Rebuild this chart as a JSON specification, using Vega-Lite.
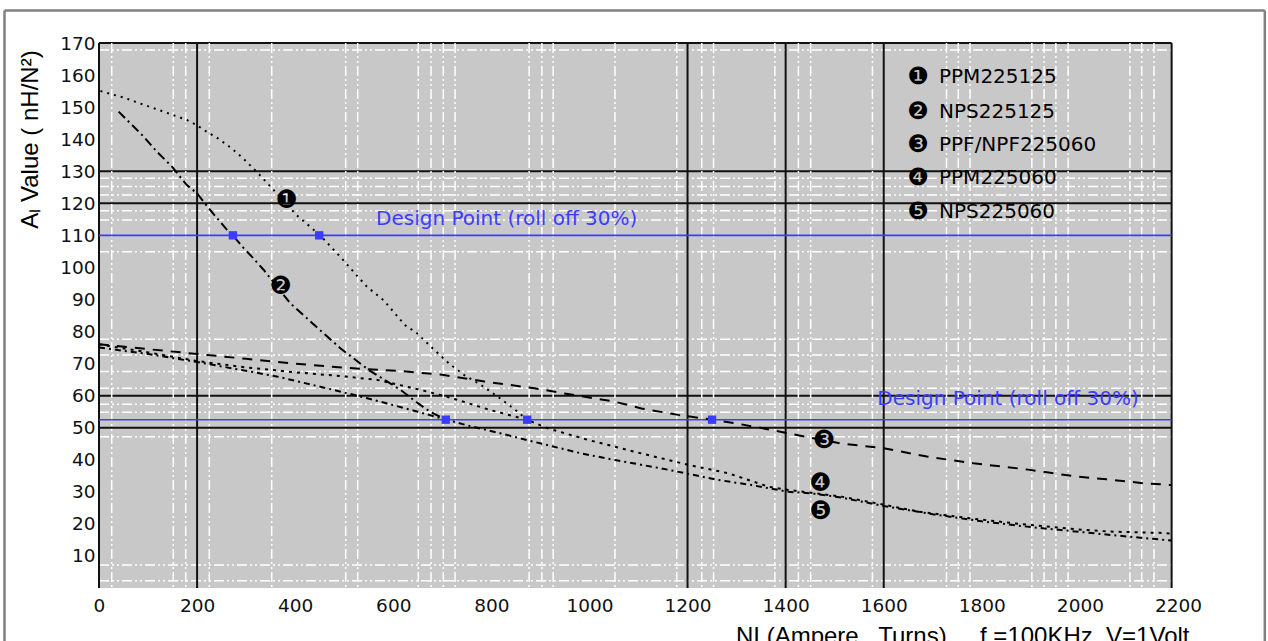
{
  "$schema": "https://vega.github.io/schema/vega-lite/v6.json",
  "autosize": {"type": "none"},
  "width": 1079,
  "height": 545,
  "padding": {"left": 99, "top": 43, "right": 90, "bottom": 53},
  "background": "#ffffff",
  "config": {"view": {"stroke": null}, "axis": {"grid": false, "ticks": false, "domain": false, "labelOverlap": false, "labelBound": false}},
  "datasets": {
    "hgrid": [{"v": 167.8}, {"v": 127.8}, {"v": 125.2}, {"v": 122.6}, {"v": 117.7}, {"v": 114.8}, {"v": 104.9}, {"v": 77.6}, {"v": 72.7}, {"v": 67.5}, {"v": 62.3}, {"v": 57.3}, {"v": 54.8}, {"v": 47.2}, {"v": 7.2}, {"v": 2.3}],
    "vgrid": [{"v": 25.9}, {"v": 151.5}, {"v": 176.8}, {"v": 224.9}, {"v": 352.1}, {"v": 503}, {"v": 527.5}, {"v": 651}, {"v": 677}, {"v": 702}, {"v": 726}, {"v": 877}, {"v": 903}, {"v": 926}, {"v": 1052}, {"v": 1178}, {"v": 1229}, {"v": 1253}, {"v": 1378}, {"v": 1426}, {"v": 1451}, {"v": 1577}, {"v": 1728}, {"v": 1752}, {"v": 1776}, {"v": 1902}, {"v": 1927}, {"v": 1951}, {"v": 1976}, {"v": 2102}, {"v": 2126}, {"v": 2151}],
    "blackh": [{"v": 170}, {"v": 130}, {"v": 120}, {"v": 60}, {"v": 50}],
    "blackv": [{"v": 0}, {"v": 200}, {"v": 1200}, {"v": 1400}, {"v": 1600}, {"v": 2187}],
    "design": [{"v": 110}, {"v": 52.5}],
    "designText": [{"x": 564.8, "y": 113.2, "t": "Design Point (roll off 30%)"}, {"x": 1587, "y": 57.1, "t": "Design Point (roll off 30%)"}],
    "squares": [{"x": 273, "y": 110}, {"x": 449, "y": 110}, {"x": 707, "y": 52.5}, {"x": 873, "y": 52.5}, {"x": 1250, "y": 52.5}],
    "curves": [
      {"s": "1", "x": 3, "y": 155}, {"s": "1", "x": 50, "y": 153}, {"s": "1", "x": 90, "y": 150.8}, {"s": "1", "x": 128, "y": 148.8}, {"s": "1", "x": 179, "y": 146}, {"s": "1", "x": 199, "y": 144.4}, {"s": "1", "x": 220, "y": 142.3}, {"s": "1", "x": 243, "y": 140.2}, {"s": "1", "x": 270, "y": 137.2}, {"s": "1", "x": 294, "y": 134}, {"s": "1", "x": 315, "y": 130.8}, {"s": "1", "x": 328, "y": 128.8}, {"s": "1", "x": 403, "y": 116.3}, {"s": "1", "x": 451, "y": 110}, {"s": "1", "x": 495, "y": 102.8}, {"s": "1", "x": 546, "y": 94}, {"s": "1", "x": 580, "y": 89.8}, {"s": "1", "x": 624, "y": 82}, {"s": "1", "x": 648, "y": 79.5}, {"s": "1", "x": 684, "y": 74.2}, {"s": "1", "x": 714, "y": 70}, {"s": "1", "x": 745, "y": 66.4}, {"s": "1", "x": 779, "y": 63.3}, {"s": "1", "x": 813, "y": 59.7}, {"s": "1", "x": 845, "y": 56}, {"s": "1", "x": 873, "y": 52.5},
      {"s": "2", "x": 40, "y": 148.6}, {"s": "2", "x": 91, "y": 140.8}, {"s": "2", "x": 118, "y": 136.1}, {"s": "2", "x": 149, "y": 131.4}, {"s": "2", "x": 179, "y": 125.7}, {"s": "2", "x": 200, "y": 123.1}, {"s": "2", "x": 224, "y": 118.4}, {"s": "2", "x": 241, "y": 115.3}, {"s": "2", "x": 261, "y": 111.7}, {"s": "2", "x": 273, "y": 110}, {"s": "2", "x": 295, "y": 106}, {"s": "2", "x": 312, "y": 103.3}, {"s": "2", "x": 336, "y": 99.2}, {"s": "2", "x": 390, "y": 88.8}, {"s": "2", "x": 435, "y": 82.6}, {"s": "2", "x": 462, "y": 78.9}, {"s": "2", "x": 492, "y": 74.8}, {"s": "2", "x": 550, "y": 68}, {"s": "2", "x": 615, "y": 61.8}, {"s": "2", "x": 646, "y": 58.1}, {"s": "2", "x": 675, "y": 55}, {"s": "2", "x": 707, "y": 52.5},
      {"s": "3", "x": 0, "y": 76}, {"s": "3", "x": 100, "y": 74.5}, {"s": "3", "x": 200, "y": 73}, {"s": "3", "x": 300, "y": 71.5}, {"s": "3", "x": 400, "y": 70}, {"s": "3", "x": 500, "y": 68.7}, {"s": "3", "x": 620, "y": 67.6}, {"s": "3", "x": 700, "y": 66.5}, {"s": "3", "x": 786, "y": 64.4}, {"s": "3", "x": 888, "y": 62.3}, {"s": "3", "x": 956, "y": 60.5}, {"s": "3", "x": 1052, "y": 58.1}, {"s": "3", "x": 1106, "y": 56}, {"s": "3", "x": 1181, "y": 54}, {"s": "3", "x": 1250, "y": 52.5}, {"s": "3", "x": 1297, "y": 51.4}, {"s": "3", "x": 1372, "y": 49.3}, {"s": "3", "x": 1406, "y": 48.2}, {"s": "3", "x": 1512, "y": 45.1}, {"s": "3", "x": 1600, "y": 43.6}, {"s": "3", "x": 1688, "y": 41}, {"s": "3", "x": 1783, "y": 38.9}, {"s": "3", "x": 1891, "y": 37}, {"s": "3", "x": 1986, "y": 34.9}, {"s": "3", "x": 2054, "y": 33.9}, {"s": "3", "x": 2129, "y": 32.7}, {"s": "3", "x": 2187, "y": 32.1},
      {"s": "4", "x": 0, "y": 76}, {"s": "4", "x": 100, "y": 73.5}, {"s": "4", "x": 200, "y": 70.8}, {"s": "4", "x": 300, "y": 68.8}, {"s": "4", "x": 400, "y": 67.3}, {"s": "4", "x": 500, "y": 66}, {"s": "4", "x": 568, "y": 64.9}, {"s": "4", "x": 650, "y": 62}, {"s": "4", "x": 709, "y": 59.7}, {"s": "4", "x": 798, "y": 55.5}, {"s": "4", "x": 873, "y": 52.5}, {"s": "4", "x": 915, "y": 49.8}, {"s": "4", "x": 997, "y": 46.2}, {"s": "4", "x": 1092, "y": 42.5}, {"s": "4", "x": 1202, "y": 38.4}, {"s": "4", "x": 1283, "y": 35.8}, {"s": "4", "x": 1365, "y": 31.6}, {"s": "4", "x": 1406, "y": 30.6}, {"s": "4", "x": 1514, "y": 28.5}, {"s": "4", "x": 1603, "y": 25.9}, {"s": "4", "x": 1672, "y": 23.8}, {"s": "4", "x": 1767, "y": 21.9}, {"s": "4", "x": 1876, "y": 20}, {"s": "4", "x": 1992, "y": 18.3}, {"s": "4", "x": 2060, "y": 17.6}, {"s": "4", "x": 2162, "y": 17.2}, {"s": "4", "x": 2187, "y": 17},
      {"s": "5", "x": 0, "y": 75}, {"s": "5", "x": 100, "y": 73}, {"s": "5", "x": 200, "y": 70.5}, {"s": "5", "x": 362, "y": 66}, {"s": "5", "x": 478, "y": 61.8}, {"s": "5", "x": 547, "y": 59.2}, {"s": "5", "x": 650, "y": 55}, {"s": "5", "x": 707, "y": 52.5}, {"s": "5", "x": 762, "y": 50.3}, {"s": "5", "x": 820, "y": 48.2}, {"s": "5", "x": 887, "y": 45.6}, {"s": "5", "x": 983, "y": 42}, {"s": "5", "x": 1052, "y": 39.9}, {"s": "5", "x": 1147, "y": 37.3}, {"s": "5", "x": 1195, "y": 35.8}, {"s": "5", "x": 1263, "y": 33.7}, {"s": "5", "x": 1331, "y": 32.1}, {"s": "5", "x": 1406, "y": 30}, {"s": "5", "x": 1454, "y": 29.5}, {"s": "5", "x": 1514, "y": 28.2}, {"s": "5", "x": 1603, "y": 25.5}, {"s": "5", "x": 1700, "y": 23}, {"s": "5", "x": 1800, "y": 20.8}, {"s": "5", "x": 1900, "y": 19}, {"s": "5", "x": 2000, "y": 17.5}, {"s": "5", "x": 2100, "y": 16}, {"s": "5", "x": 2187, "y": 14.8}
    ],
    "markers": [{"m": "❶", "x": 382.7, "y": 121}, {"m": "❷", "x": 370.4, "y": 94.1}, {"m": "❸", "x": 1478, "y": 46.2}, {"m": "❹", "x": 1471, "y": 32.9}, {"m": "❺", "x": 1471, "y": 24}],
    "legend": [{"m": "❶", "t": "PPM225125", "y": 159.4}, {"m": "❷", "t": "NPS225125", "y": 148.5}, {"m": "❸", "t": "PPF/NPF225060", "y": 138.2}, {"m": "❹", "t": "PPM225060", "y": 127.9}, {"m": "❺", "t": "NPS225060", "y": 117.3}]
  },
  "layer": [
    {
      "data": {"values": [{"a": 0, "b": 2187, "c": 0, "d": 170}]},
      "mark": {"type": "rect", "fill": "#c8c8c8"},
      "encoding": {
        "x": {"field": "a", "type": "quantitative", "scale": {"domain": [0, 2200], "nice": false, "zero": false},
          "axis": {"values": [0, 200, 400, 600, 800, 1000, 1200, 1400, 1600, 1800, 2000, 2200], "tickCount": 30, "format": "d", "labelFont": "DejaVu Sans", "labelFontSize": 18.5, "labelColor": "#111111", "labelPadding": 8, "labelFlush": false, "labelOverlap": false,
            "title": "NI (Ampere . Turns)\u00a0\u00a0\u00a0\u00a0\u00a0f =100KHz, V=1Volt", "titleFont": "Liberation Sans", "titleFontSize": 24, "titleFontWeight": "normal", "titleColor": "#000000", "titleAnchor": null, "titleAlign": "right", "titleBaseline": "alphabetic", "titleX": 1090, "titleY": 55}},
        "x2": {"field": "b"},
        "y": {"field": "c", "type": "quantitative", "scale": {"domain": [0, 170], "nice": false, "zero": false},
          "axis": {"values": [10, 20, 30, 40, 50, 60, 70, 80, 90, 100, 110, 120, 130, 140, 150, 160, 170], "tickCount": 30, "format": "d", "labelFont": "DejaVu Sans", "labelFontSize": 18.5, "labelColor": "#111111", "labelPadding": 4, "labelFlush": false, "labelOverlap": false,
            "title": "Aₗ Value ( nH/N²)", "titleFont": "Liberation Sans", "titleFontSize": 24, "titleFontWeight": "normal", "titleColor": "#000000", "titleAngle": 270, "titleAnchor": null, "titleAlign": "center", "titleBaseline": "alphabetic", "titleX": -62, "titleY": 96}},
        "y2": {"field": "d"}
      }
    },
    {
      "data": {"name": "hgrid"},
      "mark": {"type": "rule", "color": "#ffffff", "strokeWidth": 1.5, "strokeDash": [10, 3, 2, 3, 2, 3]},
      "encoding": {"y": {"field": "v", "type": "quantitative"}, "x": {"datum": 0}, "x2": {"datum": 2187}}
    },
    {
      "data": {"name": "blackh"},
      "mark": {"type": "rule", "color": "#111111", "strokeWidth": 2},
      "encoding": {"y": {"field": "v", "type": "quantitative"}, "x": {"datum": 0}, "x2": {"datum": 2187}}
    },
    {
      "data": {"name": "blackv"},
      "mark": {"type": "rule", "color": "#111111", "strokeWidth": 2},
      "encoding": {"x": {"field": "v", "type": "quantitative"}}
    },
    {
      "data": {"name": "vgrid"},
      "mark": {"type": "rule", "color": "#ffffff", "strokeWidth": 1.5, "strokeDash": [10, 3, 2, 3, 2, 3]},
      "encoding": {"x": {"field": "v", "type": "quantitative"}}
    },
    {
      "data": {"name": "design"},
      "mark": {"type": "rule", "color": "#3c3cff", "strokeWidth": 1.6},
      "encoding": {"y": {"field": "v", "type": "quantitative"}, "x": {"datum": 0}, "x2": {"datum": 2187}}
    },
    {
      "data": {"name": "designText"},
      "mark": {"type": "text", "color": "#3c3cff", "font": "DejaVu Sans", "fontSize": 20, "align": "left", "baseline": "alphabetic"},
      "encoding": {"x": {"field": "x", "type": "quantitative"}, "y": {"field": "y", "type": "quantitative"}, "text": {"field": "t"}}
    },
    {
      "data": {"name": "curves"},
      "mark": {"type": "line", "color": "#000000", "strokeWidth": 2},
      "encoding": {
        "x": {"field": "x", "type": "quantitative"},
        "y": {"field": "y", "type": "quantitative"},
        "strokeDash": {"field": "s", "type": "nominal", "legend": null,
          "scale": {"domain": ["1", "2", "3", "4", "5"], "range": [[2, 5], [9, 4, 2, 4], [10, 8], [3, 5], [6, 4, 2, 4]]}}
      }
    },
    {
      "data": {"name": "squares"},
      "mark": {"type": "square", "color": "#3c3cff", "filled": true, "opacity": 1, "size": 70},
      "encoding": {"x": {"field": "x", "type": "quantitative"}, "y": {"field": "y", "type": "quantitative"}}
    },
    {
      "data": {"name": "markers"},
      "mark": {"type": "text", "color": "#000000", "font": "DejaVu Sans", "fontSize": 25, "align": "center", "baseline": "middle"},
      "encoding": {"x": {"field": "x", "type": "quantitative"}, "y": {"field": "y", "type": "quantitative"}, "text": {"field": "m"}}
    },
    {
      "data": {"name": "legend"},
      "mark": {"type": "text", "color": "#000000", "font": "DejaVu Sans", "fontSize": 24, "align": "center", "baseline": "middle"},
      "encoding": {"x": {"datum": 1670}, "y": {"field": "y", "type": "quantitative"}, "text": {"field": "m"}}
    },
    {
      "data": {"name": "legend"},
      "mark": {"type": "text", "color": "#000000", "font": "DejaVu Sans", "fontSize": 20, "align": "left", "baseline": "middle"},
      "encoding": {"x": {"datum": 1712.7}, "y": {"field": "y", "type": "quantitative"}, "text": {"field": "t"}}
    },
    {
      "data": {"values": [{}]},
      "mark": {"type": "rule", "color": "#808080", "strokeWidth": 2.5, "clip": false},
      "encoding": {"x": {"datum": -192.7}, "y": {"datum": 180.1}, "x2": {"datum": 2377}}
    },
    {
      "data": {"values": [{}]},
      "mark": {"type": "rule", "color": "#808080", "strokeWidth": 2.5, "clip": false},
      "encoding": {"x": {"datum": -192.7}, "y": {"datum": 180.1}, "y2": {"datum": -25}}
    },
    {
      "data": {"values": [{}]},
      "mark": {"type": "rule", "color": "#808080", "strokeWidth": 2.5, "clip": false},
      "encoding": {"x": {"datum": 2377}, "y": {"datum": 180.1}, "y2": {"datum": -25}}
    }
  ]
}
